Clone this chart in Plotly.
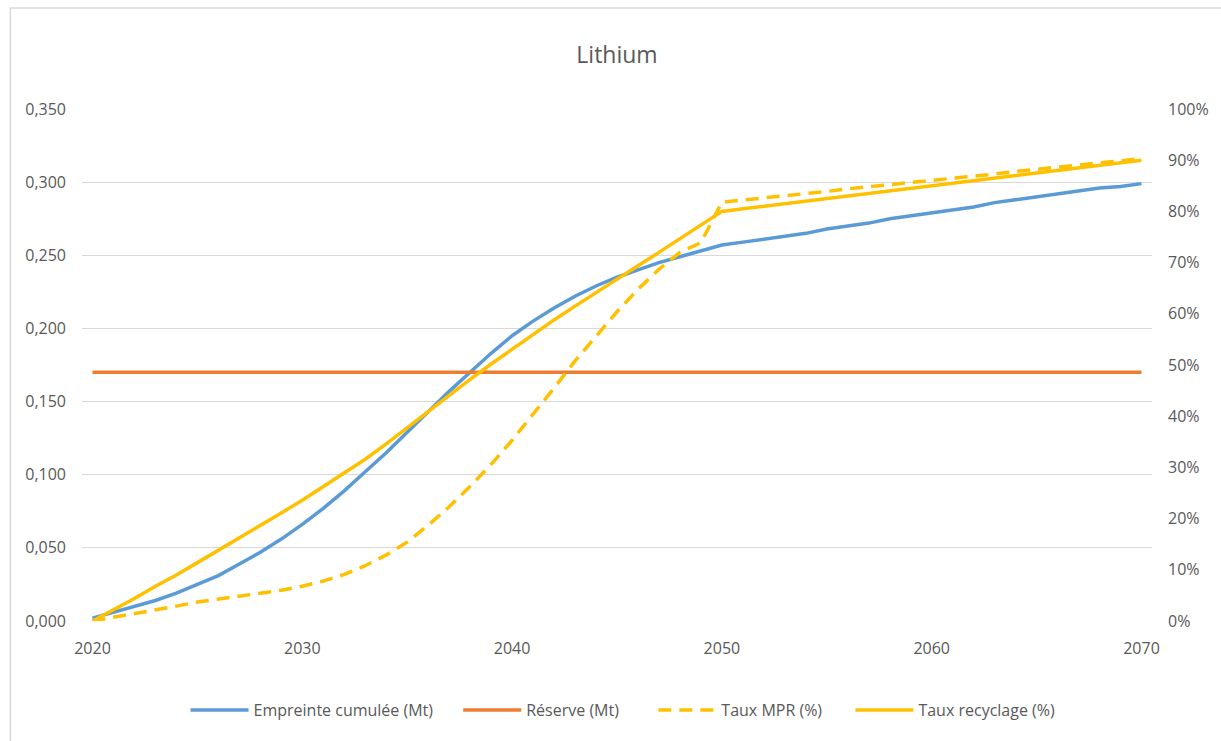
import plotly.graph_objects as go

# Years on the category axis
years = list(range(2020, 2071))

# Cumulative lithium footprint (Mt) - left axis
empreinte_mt = [
    0.002, 0.006, 0.010, 0.014, 0.019, 0.025, 0.031, 0.039, 0.047, 0.056,  # 2020-2029
    0.066, 0.077, 0.089, 0.102, 0.115, 0.129, 0.143, 0.157, 0.170, 0.183,  # 2030-2039
    0.195, 0.205, 0.214, 0.222, 0.229, 0.235, 0.240, 0.245, 0.249, 0.253,  # 2040-2049
    0.257, 0.259, 0.261, 0.263, 0.265, 0.268, 0.270, 0.272, 0.275, 0.277,  # 2050-2059
    0.279, 0.281, 0.283, 0.286, 0.288, 0.290, 0.292, 0.294, 0.296, 0.297,  # 2060-2069
    0.299,
]

# Known reserve (Mt) - left axis, constant level
reserve_mt = 0.17

# Secondary raw material rate (%) - right axis
taux_mpr = [
    0.0, 0.7, 1.4, 2.1, 2.9, 3.7, 4.3, 4.9, 5.4, 6.0,          # 2020-2029
    6.8, 7.8, 9.1, 10.8, 12.9, 15.4, 18.7, 22.3, 26.3, 30.6,   # 2030-2039
    35.3, 40.3, 45.5, 50.8, 55.7, 60.4, 64.8, 68.7, 72.0, 73.9,  # 2040-2049
    81.8, 82.2, 82.6, 83.1, 83.5, 83.9, 84.4, 84.8, 85.2, 85.6,  # 2050-2059
    86.1, 86.5, 86.9, 87.3, 87.8, 88.2, 88.6, 89.0, 89.5, 89.9,  # 2060-2069
    90.3,
]

# Recycling rate (%) - right axis
taux_recyclage = [
    0.0, 2.2, 4.4, 6.8, 9.0, 11.4, 13.8, 16.2, 18.6, 21.1,     # 2020-2029
    23.6, 26.2, 28.8, 31.6, 34.6, 37.8, 41.0, 44.1, 47.2, 50.2,  # 2030-2039
    53.1, 56.0, 58.8, 61.5, 64.2, 66.8, 69.4, 72.0, 74.6, 77.3,  # 2040-2049
    80.0, 80.5, 81.0, 81.5, 82.0, 82.5, 83.0, 83.5, 84.0, 84.5,  # 2050-2059
    85.0, 85.5, 86.0, 86.5, 87.0, 87.5, 88.0, 88.5, 89.0, 89.5,  # 2060-2069
    90.0,
]

x_ticks = [2020, 2030, 2040, 2050, 2060, 2070]

BLUE = "#5B9BD5"
ORANGE = "#ED7D31"
GOLD = "#FFC000"
TEXT = "#595959"
GRID = "#D9D9D9"
FONT = "Open Sans"

# Page geometry (px)
W, H = 1221, 741
ML, MR, MT, MB = 82, 64, 109, 120
PW = W - ML - MR
PH = H - MT - MB


def px_to_paper_x(px):
    return (px - ML) / PW


def px_to_paper_y(py):
    return (H - MB - py) / PH


fig = go.Figure()

fig.add_trace(go.Scatter(
    x=years, y=empreinte_mt, name="Empreinte cumulée (Mt)", mode="lines",
    line=dict(color=BLUE, width=3.5), yaxis="y", legend="legend",
))
fig.add_trace(go.Scatter(
    x=years, y=[reserve_mt] * len(years), name="Réserve (Mt)", mode="lines",
    line=dict(color=ORANGE, width=3.5), yaxis="y", legend="legend2",
))
fig.add_trace(go.Scatter(
    x=years, y=taux_mpr, name="Taux MPR (%)", mode="lines",
    line=dict(color=GOLD, width=3.5, dash="13px,8px"), yaxis="y2",
    legend="legend3",
))
fig.add_trace(go.Scatter(
    x=years, y=taux_recyclage, name="Taux recyclage (%)", mode="lines",
    line=dict(color=GOLD, width=3.5), yaxis="y2", legend="legend4",
))


def legend_box(left_px):
    return dict(
        orientation="h", x=px_to_paper_x(left_px), xanchor="left",
        y=px_to_paper_y(710), yanchor="middle",
        font=dict(size=16, color=TEXT), bgcolor="rgba(0,0,0,0)",
        itemwidth=58,
    )


fig.update_layout(
    width=W, height=H,
    margin=dict(l=ML, r=MR, t=MT, b=MB),
    paper_bgcolor="white", plot_bgcolor="white",
    separators=", ",
    font=dict(family=FONT, size=16, color=TEXT),
    title=dict(text="Lithium", x=0.5, xanchor="center", xref="paper",
               y=1 - 55 / H, yanchor="middle",
               font=dict(family=FONT, size=23, color=TEXT)),
    xaxis=dict(
        range=[2019.5, 2070.5], tickvals=x_ticks, showgrid=False,
        zeroline=False, showline=False, ticks="", ticklabelstandoff=16,
        tickfont=dict(size=16, color=TEXT),
    ),
    yaxis=dict(
        range=[0, 0.35], dtick=0.05, tickformat=".3f",
        showgrid=True, gridcolor=GRID, gridwidth=1, zeroline=False,
        showline=False, ticks="", ticklabelstandoff=15,
        tickfont=dict(size=16, color=TEXT),
    ),
    yaxis2=dict(
        range=[0, 100], dtick=10, ticksuffix="%", overlaying="y", side="right",
        showgrid=False, zeroline=False, showline=False, ticks="",
        ticklabelstandoff=15, tickfont=dict(size=16, color=TEXT),
    ),
    legend=legend_box(186),
    legend2=legend_box(460),
    legend3=legend_box(656),
    legend4=legend_box(854),
    showlegend=True,
    shapes=[
        # outer chart frame
        dict(type="rect", xref="paper", yref="paper",
             x0=px_to_paper_x(10), x1=px_to_paper_x(1235),
             y0=px_to_paper_y(760), y1=px_to_paper_y(8),
             line=dict(color=GRID, width=1.5), fillcolor="rgba(0,0,0,0)",
             layer="below"),
    ],
)

fig.write_html("out.html")
